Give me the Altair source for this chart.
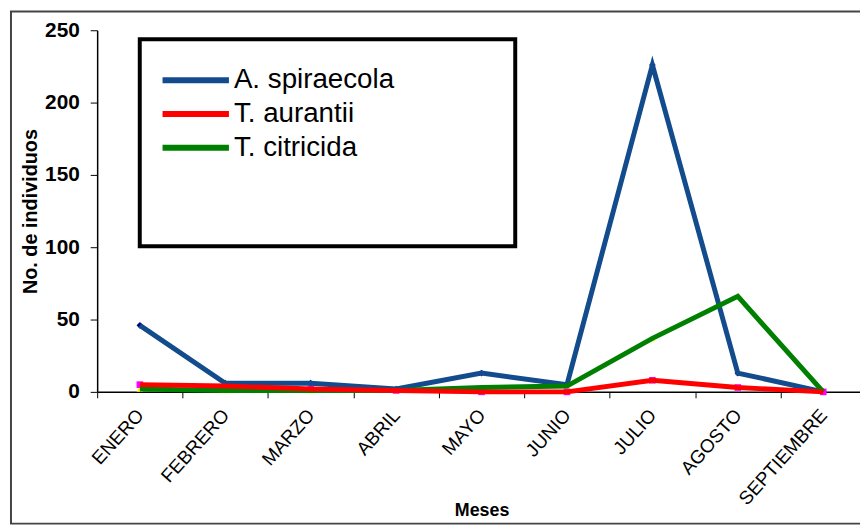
import altair as alt
import pandas as pd

months = ["ENERO", "FEBRERO", "MARZO", "ABRIL", "MAYO", "JUNIO", "JULIO", "AGOSTO", "SEPTIEMBRE"]
series_names = ["A. spiraecola", "T. aurantii", "T. citricida"]
marker_keys = ["m1", "m2", "m3"]
spiraecola = [46, 6, 6, 2, 13, 5, 226, 13, 0]
aurantii = [5, 4, 2, 1, 0, 0, 8, 3, 0]
citricida = [2, 1, 1, 1, 3, 4, 37, 66, 0]
y_ticks = [0, 50, 100, 150, 200, 250]

line_colors = ["#134C8C", "#FF0000", "#008000"]
marker_colors = ["#000080", "#FF00FF", "#FFFF00"]
marker_shapes = ["diamond", "square", "triangle-up"]
draw_order = [0, 2, 1]

rows = []
for name, key, vals, o in zip(series_names, marker_keys, [spiraecola, aurantii, citricida], draw_order):
    for m, v in zip(months, vals):
        rows.append({"mes": m, "serie": name, "marcador": key, "valor": v, "orden": o})
df = pd.DataFrame(rows).sort_values("orden", kind="stable").reset_index(drop=True)

FONT = "Liberation Sans"

x_enc = alt.X(
    "mes:N",
    sort=months,
    scale=alt.Scale(type="band", range=[0, 776], paddingInner=0, paddingOuter=0),
    axis=alt.Axis(
        title="Meses",
        titleFont=FONT,
        titleFontSize=18,
        titleFontWeight="bold",
        titleColor="black",
        titleY=120,
        titleBaseline="middle",
        labelAngle=-48,
        labelAlign="right",
        labelBaseline="middle",
        labelFont=FONT,
        labelFontSize=19,
        labelColor="black",
        labelPadding=14,
        tickBand="extent",
        tickSize=6,
        tickColor="black",
        domainColor="black",
        domainWidth=1.5,
        grid=False,
    ),
)
y_enc = alt.Y(
    "valor:Q",
    scale=alt.Scale(domain=[0, 250], nice=False),
    axis=alt.Axis(
        values=y_ticks,
        title="No. de individuos",
        titleFont=FONT,
        titleFontSize=20,
        titleFontWeight="bold",
        titleColor="black",
        titlePadding=4,
        labelFont=FONT,
        labelFontSize=21,
        labelFontWeight="bold",
        labelColor="black",
        labelPadding=11,
        tickSize=7,
        tickColor="black",
        domainColor="black",
        domainWidth=1.5,
        grid=False,
    ),
)

base = alt.Chart(df)

points = base.mark_point(filled=True, opacity=1, size=45).encode(
    x=x_enc,
    y=y_enc,
    fill=alt.Fill("marcador:N", scale=alt.Scale(domain=marker_keys, range=marker_colors), legend=None),
    shape=alt.Shape("marcador:N", scale=alt.Scale(domain=marker_keys, range=marker_shapes), legend=None),
)

lines = base.mark_line(strokeWidth=5).encode(
    x=x_enc,
    y=y_enc,
    color=alt.Color(
        "serie:N",
        scale=alt.Scale(domain=series_names, range=line_colors),
        legend=alt.Legend(
            title=None,
            orient="none",
            legendX=85,
            legendY=36,
            symbolType="M-3,0H3",
            symbolSize=499,
            symbolStrokeWidth=6,
            labelFont=FONT,
            labelFontSize=28,
            labelColor="black",
            labelLimit=400,
            labelOffset=24,
            rowPadding=5,
            padding=0,
        ),
    ),
)

one = pd.DataFrame({"k": [0]})
legend_box = alt.Chart(one).mark_rect(filled=False, stroke="black", strokeWidth=4).encode(
    x=alt.value(43), x2=alt.value(422), y=alt.value(9), y2=alt.value(218)
)
frame = alt.Chart(one).mark_rect(filled=False, stroke="#444444", strokeWidth=2).encode(
    x=alt.value(-87), x2=alt.value(900), y=alt.value(-19), y2=alt.value(498)
)

chart = alt.layer(frame, legend_box, points, lines).properties(
    width=770,
    height=365,
    autosize=alt.AutoSizeParams(type="none"),
    padding={"left": 90, "top": 20, "right": 0, "bottom": 141},
    background="white",
).configure_view(stroke=None)

chart.save("out.html", embed_options={"renderer": "svg", "actions": False})
